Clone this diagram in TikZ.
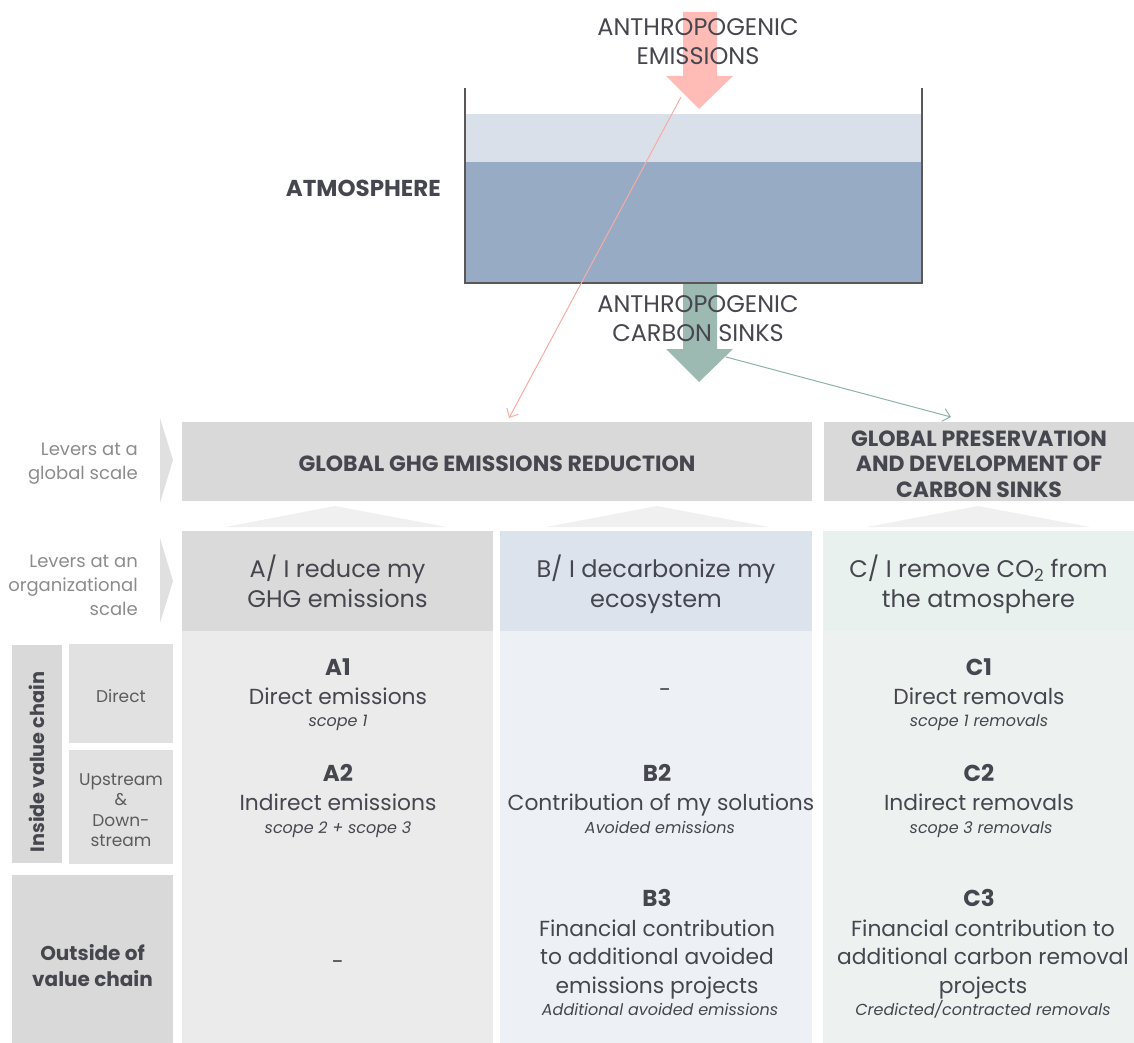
\documentclass[tikz,border=0pt]{standalone}
\usepackage{fontspec}
\setmainfont{Poppins}
\usetikzlibrary{arrows.meta}
\definecolor{txt}{HTML}{46464E}
\definecolor{lab}{HTML}{8C8C8C}
\definecolor{sidetxt}{HTML}{5C5C5C}
\definecolor{redarr}{HTML}{FFBCB6}
\definecolor{redline}{HTML}{F6ACA4}
\definecolor{grnarr}{HTML}{9CBAB2}
\definecolor{grnline}{HTML}{8DB4A8}
\definecolor{tanklight}{HTML}{DAE0EA}
\definecolor{tankdark}{HTML}{97ABC5}
\definecolor{tankwall}{HTML}{5A5756}
\definecolor{globfill}{HTML}{D9D9D9}
\definecolor{orgA}{HTML}{DADADA}
\definecolor{orgB}{HTML}{DCE3EC}
\definecolor{orgC}{HTML}{E9F1EE}
\definecolor{bodyA}{HTML}{EBEBEB}
\definecolor{bodyB}{HTML}{EDF0F5}
\definecolor{bodyC}{HTML}{EDF1F0}
\definecolor{sidefill}{HTML}{E1E1E1}
\definecolor{sidedark}{HTML}{D9D9D9}
\definecolor{tri}{HTML}{F0F0F0}
\definecolor{chev}{HTML}{E0E0E0}
\begin{document}
\begin{tikzpicture}[x=1pt,y=-1pt,
  cellbox/.style={inner sep=0pt, minimum width=#1},
  flow/.style={text=txt, align=center, inner sep=0pt, font=\fontsize{24}{29}\selectfont},
  leverlab/.style={text=lab, align=right, anchor=east, inner sep=0pt, font=\fontsize{18}{24}\selectfont},
  globtxt/.style={text=txt, align=center, font=\bfseries\fontsize{22}{25.5}\selectfont},
  orgtxt/.style={text=txt, align=center, inner sep=0pt, font=\fontsize{24}{30}\selectfont},
  ctitle/.style={text=txt, font=\bfseries\fontsize{23}{25}\selectfont},
  cmain/.style={text=txt, align=center, inner sep=0pt, font=\fontsize{21.8}{28.5}\selectfont},
  csub/.style={text=txt, font=\itshape\fontsize{16}{18}\selectfont},
  sidetext/.style={text=sidetxt, align=center, inner sep=0pt, font=\fontsize{17}{20.5}\selectfont},
  sidebold/.style={text=txt, align=center, inner sep=0pt, font=\bfseries\fontsize{20}{26}\selectfont},
  thinarrow/.style={-{Straight Barb[length=7pt,width=13pt]}, line width=1pt}
]
\useasboundingbox (0,0) rectangle (1134,1043);

% ---------- tank ----------
\fill[tanklight] (465,114) rectangle (922,162);
\fill[tankdark] (465,162) rectangle (922,283);
\draw[tankwall, line width=2.4pt] (465,88) -- (465,283) -- (922,283) -- (922,88);

% ---------- big arrows ----------
\fill[redarr] (683,12) -- (717,12) -- (717,76) -- (733,76) -- (699,109) -- (666,76) -- (683,76) -- cycle;
\fill[grnarr] (683,284) -- (717,284) -- (717,349) -- (733,349) -- (699,382) -- (666,349) -- (683,349) -- cycle;

\node[flow] (emis) at (698,44.5) {ANTHROPOGENIC\strut\\EMISSIONS\strut};
\node[flow] (sinks) at (698,321.5) {ANTHROPOGENIC\strut\\CARBON SINKS\strut};
\node[text=txt, anchor=east, inner sep=0pt, font=\bfseries\fontsize{23}{24}\selectfont] (atmo) at (441,188) {ATMOSPHERE};

% ---------- global row ----------
\node[cellbox=630pt, minimum height=79pt, fill=globfill] (glob1) at (497,461.5) {};
\node[globtxt] (glob1txt) at (497,463.5) {GLOBAL GHG EMISSIONS REDUCTION};
\node[cellbox=310pt, minimum height=79pt, fill=globfill] (glob2) at (979,461.5) {};
\node[globtxt] (glob2txt) at (979,463.8) {GLOBAL PRESERVATION\\AND DEVELOPMENT OF\\CARBON SINKS};

\fill[chev] (160,418) -- (173,460) -- (160,503) -- cycle;
\fill[chev] (160,538) -- (173,581) -- (160,623) -- cycle;
\node[leverlab] (lev1) at (138,462.2) {Levers at a\strut\\global scale\strut};
\node[leverlab] (lev2) at (138,586.2) {Levers at an\strut\\organizational\strut\\scale\strut};

% thin arrows
\coordinate (redstart) at (681,97);
\coordinate (redend) at (509,418);
\coordinate (grnstart) at (726,357);
\coordinate (grnend) at (951,417);
\draw[thinarrow, redline] (redstart) -- (redend);
\draw[thinarrow, grnline] (grnstart) -- (grnend);

% small triangles
\fill[tri] (225,527) -- (335,506) -- (447,527) -- cycle;
\fill[tri] (546,527) -- (657,506) -- (769,527) -- cycle;
\fill[tri] (867,527) -- (978,506) -- (1090,527) -- cycle;

% ---------- body columns ----------
\node[cellbox=311pt, minimum height=412pt, fill=bodyA] (bodyA) at (337.5,837) {};
\node[cellbox=312pt, minimum height=412pt, fill=bodyB] (bodyB) at (656,837) {};
\node[cellbox=311pt, minimum height=412pt, fill=bodyC] (bodyC) at (978.5,837) {};

% ---------- org row ----------
\node[cellbox=311pt, minimum height=100pt, fill=orgA] (orgA) at (337.5,581) {};
\node[cellbox=312pt, minimum height=100pt, fill=orgB] (orgB) at (656,581) {};
\node[cellbox=311pt, minimum height=100pt, fill=orgC] (orgC) at (978.5,581) {};
\node[orgtxt] (orgAtxt) at (337.5,586) {A/ I reduce my\strut\\GHG emissions\strut};
\node[orgtxt] (orgBtxt) at (656,586) {B/ I decarbonize my\strut\\ecosystem\strut};
\node[orgtxt] (orgCtxt) at (978.5,586) {C/ I remove CO\textsubscript{2} from\strut\\the atmosphere\strut};

% ---------- side labels ----------
\node[cellbox=50pt, minimum height=218pt, fill=sidedark] (inside) at (37,754) {};
\node[sidebold, rotate=90, font=\bfseries\fontsize{19.3}{22}\selectfont] (insidetxt) at (37,762) {Inside value chain};
\node[cellbox=104pt, minimum height=99pt, fill=sidefill] (direct) at (121,693.5) {};
\node[sidetext] (directtxt) at (121,696) {Direct};
\node[cellbox=104pt, minimum height=114pt, fill=sidefill] (updown) at (121,807) {};
\node[sidetext] (updowntxt) at (121,811.8) {Upstream\strut\\\&\strut\\Down-\strut\\stream\strut};
\node[cellbox=161pt, minimum height=168pt, fill=sidedark] (outside) at (92.5,959) {};
\node[sidebold] (outsidetxt) at (92.5,967.8) {Outside of\strut\\value chain\strut};

% ---------- column A ----------
\node[ctitle] (a1t) at (338,667) {A1};
\node[cmain] (a1m) at (338,696) {Direct emissions};
\node[csub] (a1s) at (338,723) {scope 1};
\node[ctitle] (a2t) at (338,773) {A2};
\node[cmain] (a2m) at (338,802) {Indirect emissions};
\node[csub] (a2s) at (338,830) {scope 2 + scope 3};
\node[cmain] (a3m) at (338,965) {-};

% ---------- column B ----------
\node[cmain] (b1m) at (665,693) {-};
\node[ctitle] (b2t) at (657,773) {B2};
\node[cmain] (b2m) at (661,805) {Contribution of my solutions};
\node[csub] (b2s) at (660,827) {Avoided emissions};
\node[ctitle] (b3t) at (657,898) {B3};
\node[cmain] (b3m) at (657,958.8) {Financial contribution\strut\\to additional avoided\strut\\emissions projects\strut};
\node[csub] (b3s) at (660,1009) {Additional avoided emissions};

% ---------- column C ----------
\node[ctitle] (c1t) at (979,667) {C1};
\node[cmain] (c1m) at (979,696) {Direct removals};
\node[csub] (c1s) at (979,723) {scope 1 removals};
\node[ctitle] (c2t) at (979,773) {C2};
\node[cmain] (c2m) at (979,802) {Indirect removals};
\node[csub] (c2s) at (981,830) {scope 3 removals};
\node[ctitle] (c3t) at (979,898) {C3};
\node[cmain] (c3m) at (983,958.8) {Financial contribution to\strut\\additional carbon removal\strut\\projects\strut};
\node[csub] (c3s) at (983,1009) {Credicted/contracted removals};
\end{tikzpicture}
\end{document}
